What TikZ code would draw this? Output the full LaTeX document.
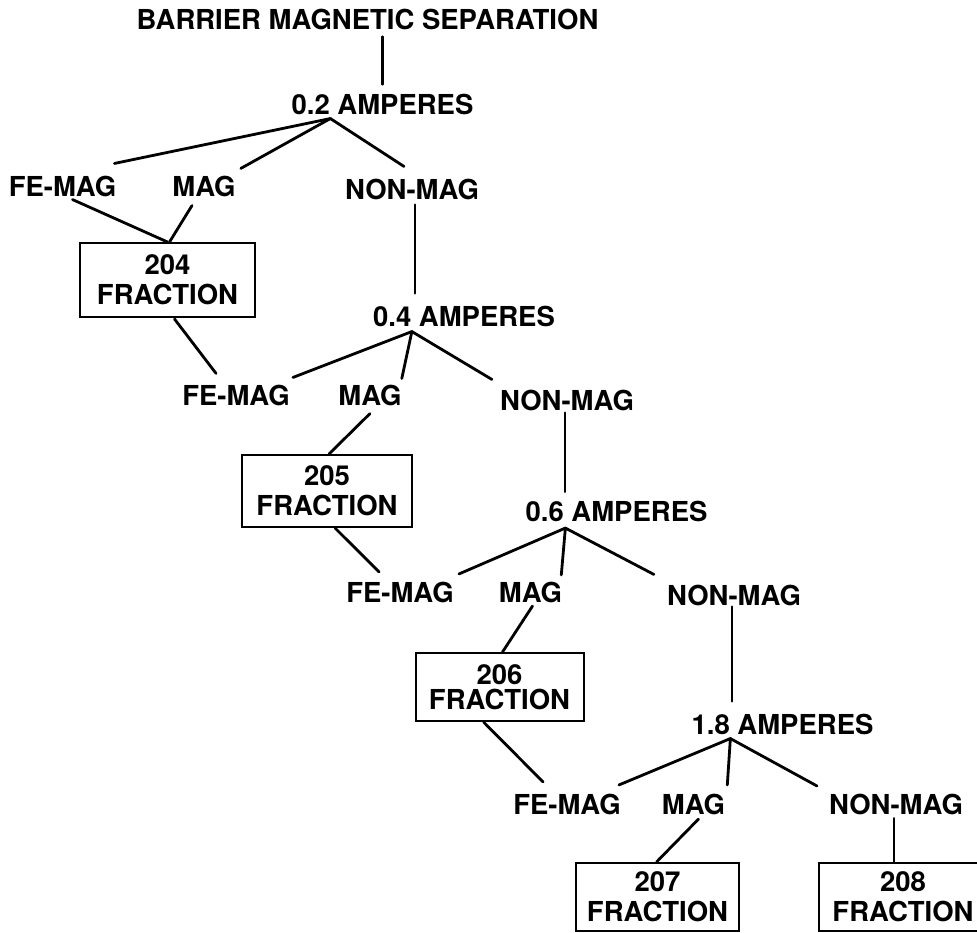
\documentclass[tikz,border=0pt]{standalone}
\usepackage{fontspec}
\setmainfont{TeX Gyre Heros}
\usetikzlibrary{calc}
\begin{document}
\begin{tikzpicture}[
  x=1pt, y=-1pt,
  every node/.style={font=\fontsize{27.5}{30}\selectfont\bfseries, inner sep=0pt},
  amp/.style={anchor=center},
  branch/.style={anchor=center},
  fraction/.style={draw, line width=2pt, align=center, minimum width=168pt, minimum height=68pt},
  link/.style={line width=2.8pt, line cap=round}
]
\useasboundingbox (0,0) rectangle (977,932);

% labels
\node (title) at (367.5,19) {BARRIER MAGNETIC SEPARATION};

\node[amp] (a02) at (382.5,104) {0.2 AMPERES};
\node[branch] (fe1) at (62.5,186) {FE-MAG};
\node[branch] (mag1) at (204,186) {MAG};
\node[branch] (non1) at (412,189) {NON-MAG};
\node[fraction, minimum width=175pt, minimum height=74pt] (b204) at (167.5,280) {204\\FRACTION};

\node[amp] (a04) at (464,316) {0.4 AMPERES};
\node[branch] (fe2) at (236,395) {FE-MAG};
\node[branch] (mag2) at (370,395) {MAG};
\node[branch] (non2) at (567,400) {NON-MAG};
\node[fraction, minimum width=170pt, minimum height=72pt] (b205) at (327,491) {205\\FRACTION};

\node[amp] (a06) at (616.5,511.5) {0.6 AMPERES};
\node[branch] (fe3) at (400,592.5) {FE-MAG};
\node[branch] (mag3) at (530.5,592.5) {MAG};
\node[branch] (non3) at (734,595) {NON-MAG};
\node[fraction] (b206) at (499.5,687) {206\\[-5pt]FRACTION};

\node[amp] (a18) at (782.5,724) {1.8 AMPERES};
\node[branch] (fe4) at (567,804.5) {FE-MAG};
\node[branch] (mag4) at (693.5,804.5) {MAG};
\node[branch] (non4) at (896,804.5) {NON-MAG};
\node[fraction, minimum width=163pt] (b207) at (657.5,897) {207\\FRACTION};
\node[fraction] (b208) at (903,897) {208\\FRACTION};

% junctions under the current values
\coordinate (j02) at ($(a02.south west)+(39,4)$);
\coordinate (j04) at ($(a04.south west)+(39,5)$);
\coordinate (j06) at ($(a06.south west)+(40,6)$);
\coordinate (j18) at ($(a18.south west)+(39,4)$);

% connectors
\draw[link, line width=2.2pt] ($(a02.north)+(0,-9)$) -- ($(a02.north |- title.south)+(0,7)$);
\draw[link] (j02) -- ($(fe1.north east)+(-2,-12)$);
\draw[link] (j02) -- ($(mag1.north east)+(5,-7)$);
\draw[link] (j02) -- ($(non1.north)+(-8,-12)$);
\draw[link] ($(fe1.south)+(10,3)$) -- (b204.north);
\draw[link] ($(mag1.south)+(-12,9)$) -- ($(b204.north)+(2,0)$);

\draw[link, line width=2.2pt] ($(non1.south)+(3,5)$) -- ($(a04.north -| non1.south)+(3,-12)$);
\draw[link] ($(b204.south)+(7,1)$) -- ($(fe2.north west)+(34,-11)$);
\draw[link] (j04) -- ($(fe2.north east)+(3,-7)$);
\draw[link] (j04) -- ($(mag2.north east)+(0,-6)$);
\draw[link] (j04) -- ($(non2.north west)+(-8,-10)$);
\draw[link] ($(mag2.south)+(0,8)$) -- ($(b205.north)+(2,0)$);

\draw[link, line width=2.2pt] ($(non2.south)+(-2,2)$) -- ($(a06.north -| non2.south)+(-2,-9)$);
\draw[link] ($(b205.south)+(8,0)$) -- ($(fe3.north west)+(33,-10)$);
\draw[link] (j06) -- ($(fe3.north east)+(5,-8)$);
\draw[link] (j06) -- ($(mag3.north east)+(-1,-7)$);
\draw[link] (j06) -- ($(non3.north west)+(-13,-10)$);
\draw[link] ($(mag3.south)+(2,3)$) -- ($(b206.north)+(3,0)$);

\draw[link, line width=2.2pt] ($(non3.south)+(-2,1)$) -- ($(a18.north -| non3.south)+(-2,-12)$);
\draw[link] ($(b206.south)+(-16,0)$) -- ($(fe4.north west)+(30,-12)$);
\draw[link] (j18) -- ($(fe4.north east)+(-2,-9)$);
\draw[link] (j18) -- ($(mag4.north east)+(2,-9)$);
\draw[link] (j18) -- ($(non4.north west)+(-12,-8)$);
\draw[link] ($(mag4.south)+(5,4)$) -- ($(b207.north)+(-1,0)$);
\draw[link, line width=1.8pt] ($(non4.south)+(-2,3)$) -- ($(b208.north)+(-9,0)$);
\end{tikzpicture}
\end{document}
